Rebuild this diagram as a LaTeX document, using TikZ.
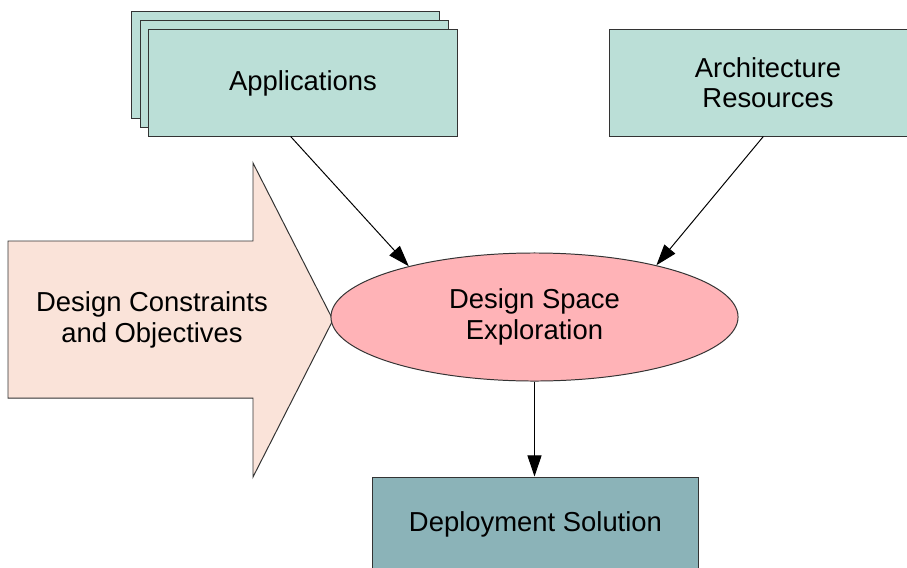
\documentclass[tikz,border=0pt]{standalone}
\usepackage{fontspec}
\setmainfont{Liberation Sans}
\usetikzlibrary{%
  arrows.meta,%
  shapes.geometric,%
}

\definecolor{appteal}{HTML}{BBDFD7}
\definecolor{dsepink}{HTML}{FFB3B7}
\definecolor{cstpeach}{HTML}{FAE3D9}
\definecolor{depteal}{HTML}{8BB3B8}
\definecolor{edgegray}{HTML}{333333}

\tikzset{
  box/.style={draw=edgegray, line width=0.7pt, minimum width=7.7cm,
    minimum height=2.65cm, inner sep=0pt, align=center},
  flow/.style={draw=black, line width=0.7pt, -{Triangle[length=15pt, width=10pt]}},
}

\begin{document}
\begin{tikzpicture}[x=0.025cm, y=-0.025cm, font=\fontsize{19.5}{21.5}\selectfont]

      \useasboundingbox (0, 0) rectangle (907, 567);
      \fill [white] (0, 0) rectangle (907, 567);

      % stacked applications
      \node [box, fill=appteal] (appsback) at (285.5, 65) {};
      \node [box, fill=appteal] (appsmid) at (294.5, 74) {};
      \node [box, fill=appteal] (apps) at (303, 83) {Applications};

      \node [box, fill=appteal, minimum width=7.9cm] (arch) at (768, 83)
        {Architecture\\Resources};

      % big arrow of constraints
      \draw [fill=cstpeach, draw=edgegray, line width=0.7pt]
        (8, 241) -- (253, 241) -- (253, 163) -- (333, 320)
        -- (253, 477) -- (253, 398) -- (8, 398) -- cycle;
      \node [align=center] (constr) at (152, 320)
        {Design Constraints\\and Objectives};

      \node [ellipse, draw=edgegray, line width=0.7pt, fill=dsepink,
        minimum width=10.175cm, minimum height=3.2cm, inner sep=0pt,
        align=center] (dse) at (534.5, 317) {Design Space\\Exploration};

      \node [box, fill=depteal, minimum width=8.125cm, minimum height=2.35cm]
        (depl) at (535.5, 524) {Deployment Solution};

      \draw [flow] (apps.-103) -- (dse.158);
      \draw [flow] (arch.-95) -- (dse.23);
      \draw [flow] (dse.south) -- (depl.north -| dse.south);
    \end{tikzpicture}
\end{document}
